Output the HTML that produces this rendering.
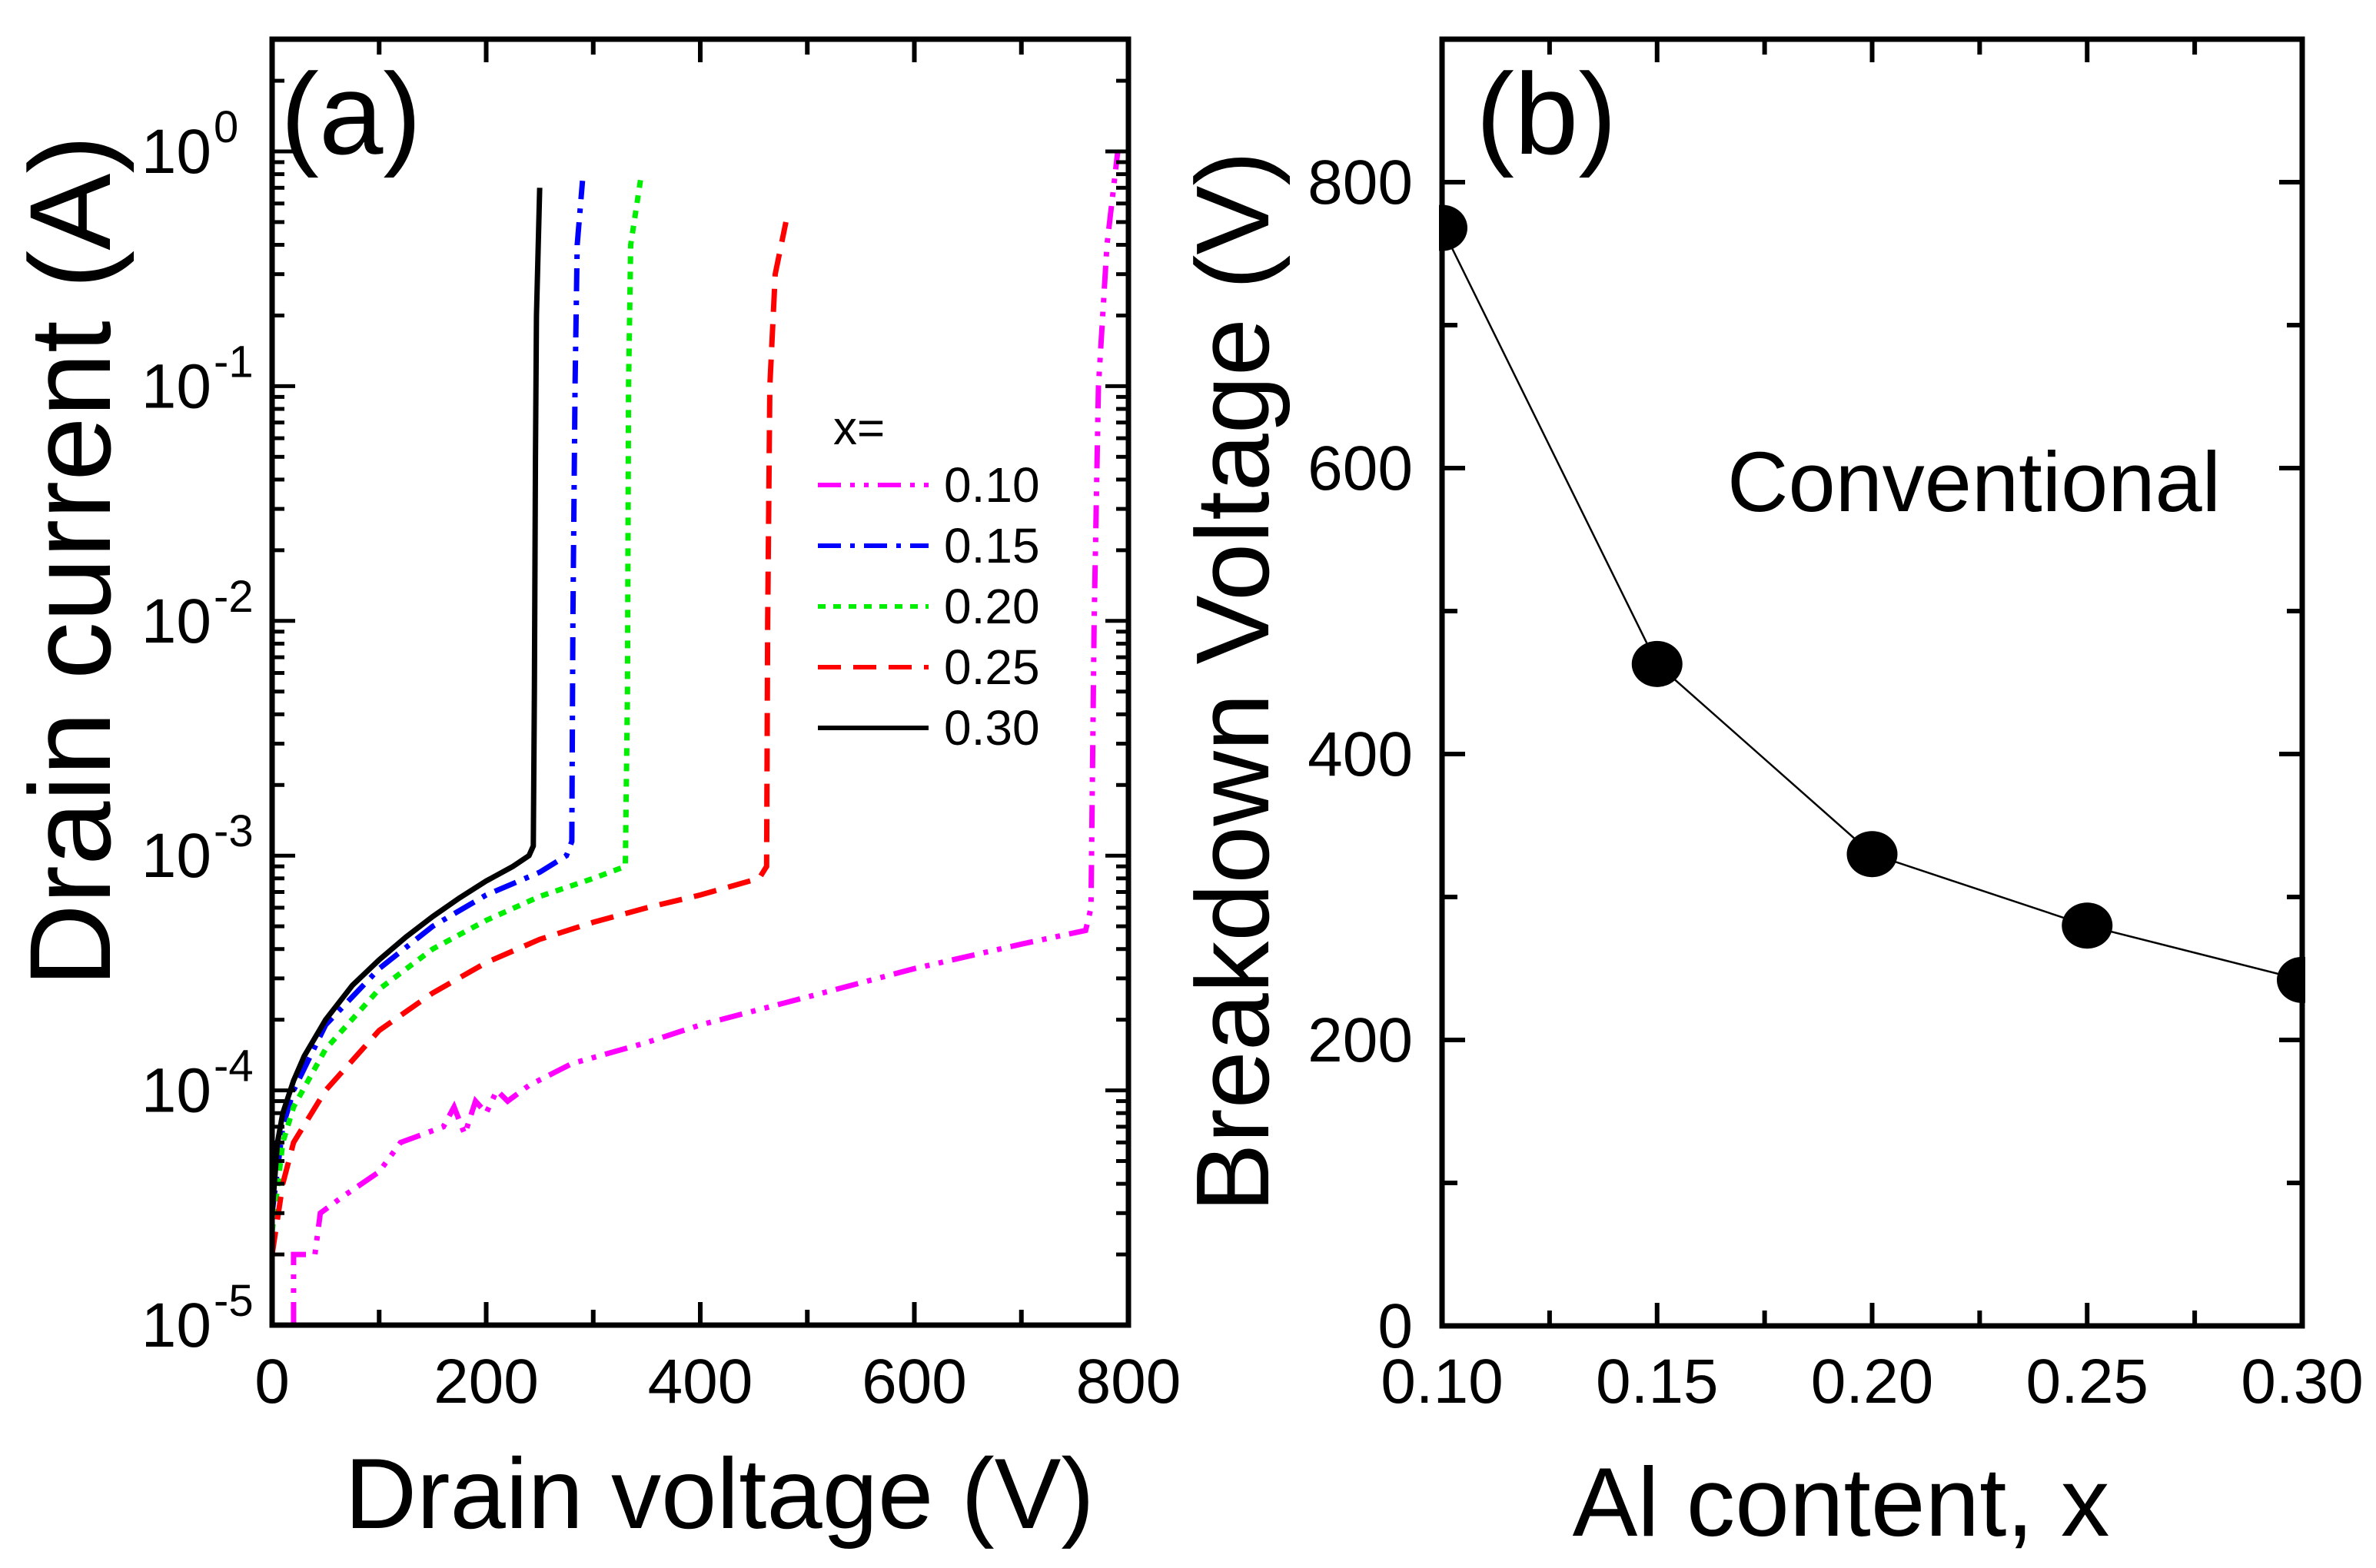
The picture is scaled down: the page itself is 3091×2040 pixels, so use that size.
<!DOCTYPE html>
<html><head><meta charset="utf-8">
<style>
html,body{margin:0;padding:0;background:#fff;}
svg{display:block;font-family:"Liberation Sans",sans-serif;}
</style></head>
<body>
<svg id="chart" width="3091" height="2040" viewBox="0 0 3091 2040" xmlns="http://www.w3.org/2000/svg">
<rect x="0" y="0" width="3091" height="2040" fill="#fff"/>
<g id="pa"></g>
<g id="pb"></g>
<text x="365" y="200" font-size="150">(a)</text>
<text x="1920" y="200" font-size="150">(b)</text>
<text x="936" y="1988" font-size="130" text-anchor="middle">Drain voltage (V)</text>
<text transform="translate(143,730) rotate(-90)" font-size="150" text-anchor="middle">Drain current (A)</text>
<text x="2395" y="1998" font-size="127" text-anchor="middle">Al content, x</text>
<text transform="translate(1650,887) rotate(-90)" font-size="135" text-anchor="middle">Breakdown Voltage (V)</text>
<text x="2247" y="665" font-size="110">Conventional</text>
<g id="legend"></g>
</svg>
<script>
// Panel (a) data
const voltsA30 = [0,5,10,20,30,50,75,100,125,150,175,200,225,240,244,245,246,247,250];
const curA30 = [3e-5,6e-5,8e-5,1.1e-4,1.4e-4,2e-4,2.8e-4,3.6e-4,4.5e-4,5.5e-4,6.6e-4,7.8e-4,9e-4,1e-3,1.1e-3,5e-3,0.05,0.2,0.7];
const voltsA15 = [0,10,20,50,100,150,200,250,275,280,281,283,285,290];
const curA15 = [3e-5,7e-5,1e-4,1.9e-4,3.3e-4,5e-4,6.8e-4,8.5e-4,1e-3,1.15e-3,0.01,0.1,0.4,0.75];
const voltsA20 = [0,10,20,50,100,150,200,250,300,330,332,333,335,345];
const curA20 = [2.5e-5,6e-5,8.5e-5,1.5e-4,2.7e-4,4e-4,5.3e-4,6.7e-4,8e-4,9e-4,0.005,0.1,0.4,0.8];
const voltsA25 = [0,10,20,50,100,150,200,250,300,350,400,455,462,463,465,470,480];
const curA25 = [2e-5,4e-5,6e-5,1e-4,1.8e-4,2.6e-4,3.5e-4,4.4e-4,5.2e-4,6e-4,6.8e-4,8e-4,9e-4,0.01,0.1,0.3,0.5];
const voltsA10 = [20,20,40,45,65,100,120,160,170,180,190,200,210,220,240,280,350,400,500,600,700,760,765,768,772,780,790];
const curA10 = [1e-5,2e-5,2e-5,3e-5,3.5e-5,4.5e-5,6e-5,7e-5,8.5e-5,6.5e-5,9e-5,8e-5,1e-4,9e-5,1.05e-4,1.3e-4,1.6e-4,1.9e-4,2.5e-4,3.3e-4,4.2e-4,4.8e-4,6e-4,0.01,0.1,0.4,1.0];
const xTicksA = [0,200,400,600,800];
const yExpA = [0,-1,-2,-3,-4,-5];
// Panel (b) data
const alContent = [0.10,0.15,0.20,0.25,0.30];
const breakdownV = [768,463,330,280,242];
const xTicksB = ["0.10","0.15","0.20","0.25","0.30"];
const yTicksB = [0,200,400,600,800];
const legendLabels = ["0.10","0.15","0.20","0.25","0.30"];

const NS="http://www.w3.org/2000/svg";
function mk(tag,attrs,parent){const e=document.createElementNS(NS,tag);for(const k in attrs)e.setAttribute(k,attrs[k]);parent.appendChild(e);return e;}

const aL=354,aR=1468,aT=51,aB=1724;
const decA=(aB-197)/5;
function xA(v){return aL+(v/800)*(aR-aL);}
function yA(i){return 197-Math.log10(i)*decA;}
const pa=document.getElementById('pa');
const series=[
 {v:voltsA10,c:curA10,col:"#ff00ff",dash:"30,12,6,12,6,12",name:"curve-x010"},
 {v:voltsA15,c:curA15,col:"#0000ff",dash:"30,12,6,12",name:"curve-x015"},
 {v:voltsA20,c:curA20,col:"#00ee00",dash:"10,10",name:"curve-x020"},
 {v:voltsA25,c:curA25,col:"#ff0000",dash:"30,16",name:"curve-x025"},
 {v:voltsA30,c:curA30,col:"#000000",dash:"",name:"curve-x030"}];
series.forEach(s=>{
 const d=s.v.map((v,i)=>(i?'L':'M')+xA(v).toFixed(1)+','+yA(s.c[i]).toFixed(1)).join(' ');
 const p=mk('path',{d:d,fill:'none',stroke:s.col,'stroke-width':7,'stroke-dasharray':s.dash},pa);
 
 
});
const fa=mk('rect',{x:aL,y:aT,width:aR-aL,height:aB-aT,fill:'none',stroke:'#000','stroke-width':7},pa);


for(let v=0;v<=800;v+=100){
 const L=(v%200===0)?30:20;const x=xA(v);
 mk('line',{x1:x,y1:aB,x2:x,y2:aB-L,stroke:'#000','stroke-width':6},pa);
 mk('line',{x1:x,y1:aT,x2:x,y2:aT+L,stroke:'#000','stroke-width':6},pa);
}
xTicksA.forEach(v=>{const t=mk('text',{x:xA(v),y:1825,'font-size':82,'text-anchor':'middle'},pa);t.textContent=v;
 
 });
for(let e=-5;e<=0;e++){
 for(let m=1;m<=9;m++){
  const val=m*Math.pow(10,e);const y=yA(val);if(y<aT)continue;
  const L=m===1?30:16;
  mk('line',{x1:aL,y1:y,x2:aL+L,y2:y,stroke:'#000','stroke-width':5},pa);
  mk('line',{x1:aR,y1:y,x2:aR-L,y2:y,stroke:'#000','stroke-width':5},pa);
  if(e===0)break;
 }
}
for(let m=2;m<=3;m++){const y=yA(m);if(y>aT){mk('line',{x1:aL,y1:y,x2:aL+16,y2:y,stroke:'#000','stroke-width':5},pa);mk('line',{x1:aR,y1:y,x2:aR-16,y2:y,stroke:'#000','stroke-width':5},pa);}}
yExpA.forEach(e=>{
 const t=mk('text',{x:275,y:yA(Math.pow(10,e))+28,'font-size':82,'text-anchor':'end'},pa);
 
 
 t.textContent='10';
 const s=mk('text',{x:278,y:yA(Math.pow(10,e))-12,'font-size':58,'text-anchor':'start'},pa);
 s.textContent=String(e);
});
const lg=document.getElementById('legend');
const lt=mk('text',{x:1084,y:578,'font-size':62},lg);lt.textContent='x=';
legendLabels.forEach((lab,i)=>{
 const y=631+i*79;const s=series[i];
 const l=mk('line',{x1:1064,y1:y,x2:1208,y2:y,stroke:s.col,'stroke-width':6,'stroke-dasharray':s.dash},lg);
 
 
 const t=mk('text',{x:1228,y:y+22,'font-size':64},lg);t.textContent=lab;
 
 
});

const bL=1876,bR=2995,bT=51,bB=1725;
function xB(v){return bL+(v-0.10)/0.20*(bR-bL);}
function yB(v){return bB-v*(bB-237)/800;}
const pb=document.getElementById('pb');
const ln=mk('path',{d:alContent.map((x,i)=>(i?'L':'M')+xB(x)+','+yB(breakdownV[i])).join(' '),fill:'none',stroke:'#000','stroke-width':2.5},pb);


alContent.forEach((x,i)=>{
 const c=mk('ellipse',{cx:xB(x),cy:yB(breakdownV[i]),rx:33,ry:30,fill:'#000'},pb);
 
 
});
mk('rect',{x:bR+4,y:0,width:100,height:2040,fill:'#fff'},pb);
mk('rect',{x:bL-100,y:0,width:96,height:1700,fill:'#fff'},pb);
const fb=mk('rect',{x:bL,y:bT,width:bR-bL,height:bB-bT,fill:'none',stroke:'#000','stroke-width':7},pb);


for(let k=0;k<=8;k++){
 const x=bL+k*(bR-bL)/8;const L=k%2===0?30:20;
 mk('line',{x1:x,y1:bB,x2:x,y2:bB-L,stroke:'#000','stroke-width':6},pb);
 mk('line',{x1:x,y1:bT,x2:x,y2:bT+L,stroke:'#000','stroke-width':6},pb);
}
xTicksB.forEach(v=>{const t=mk('text',{x:xB(parseFloat(v)),y:1825,'font-size':82,'text-anchor':'middle'},pb);t.textContent=v;
 
 });
for(let v=0;v<=900;v+=100){
 const y=yB(v);const L=v%200===0?30:20;
 mk('line',{x1:bL,y1:y,x2:bL+L,y2:y,stroke:'#000','stroke-width':6},pb);
 mk('line',{x1:bR,y1:y,x2:bR-L,y2:y,stroke:'#000','stroke-width':6},pb);
}
yTicksB.forEach(v=>{const t=mk('text',{x:1838,y:yB(v)+28,'font-size':82,'text-anchor':'end'},pb);t.textContent=v;
 
 });
</script>
</body></html>
